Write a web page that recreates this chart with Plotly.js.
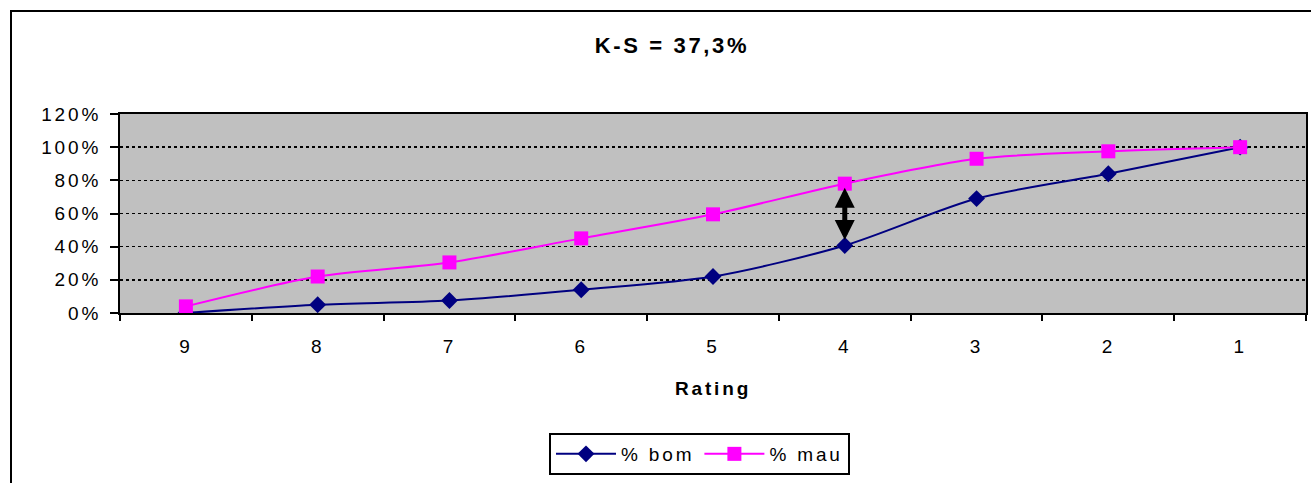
<!DOCTYPE html>
<html>
<head>
<meta charset="utf-8">
<script src="https://cdn.plot.ly/plotly-3.0.1.min.js"></script>
<style>
  html, body { margin: 0; padding: 0; background: #fff; }
  #wrap { position: relative; width: 1311px; height: 483px; overflow: hidden; }
  #chart { width: 1311px; height: 483px; }
  #frame { position: absolute; left: 10px; top: 10px; width: 1400px; height: 600px;
           border: 2px solid #000; pointer-events: none; box-sizing: border-box; }
  text { letter-spacing: 0.15em; }
  text.gtitle { letter-spacing: 0.12em; }
</style>
</head>
<body>
<div id="wrap">
  <div id="chart"></div>
  <div id="frame"></div>
</div>
<script>
const ratings = ['9', '8', '7', '6', '5', '4', '3', '2', '1'];
const pctBom = [0.0, 0.05, 0.075, 0.14, 0.22, 0.407, 0.69, 0.84, 1.0];
const pctMau = [0.04, 0.22, 0.305, 0.45, 0.595, 0.78, 0.93, 0.975, 1.0];
const ksRating = '4';
const chartTitle = 'K-S = 37,3%';
const yTicks = [0, 0.2, 0.4, 0.6, 0.8, 1.0, 1.2];
const yTickText = ['0%', '20%', '40%', '60%', '80%', '100%', '120%'];

const ksIdx = ratings.indexOf(ksRating);

const traces = [
  {
    x: ratings, y: pctBom, name: '% bom', type: 'scatter', mode: 'lines+markers',
    line: { color: '#000080', width: 2, shape: 'spline', smoothing: 0.8 },
    marker: { symbol: 'diamond', size: 13, color: '#000080' }
  },
  {
    x: ratings, y: pctMau, name: '% mau', type: 'scatter', mode: 'lines+markers',
    line: { color: '#FF00FF', width: 2, shape: 'spline', smoothing: 0.8 },
    marker: { symbol: 'square', size: 14, color: '#FF00FF' }
  }
];

const layout = {
  width: 1311, height: 483,
  margin: { l: 120, r: 5, t: 114, b: 170 },
  paper_bgcolor: '#ffffff',
  plot_bgcolor: '#C0C0C0',
  font: { family: 'Liberation Sans, Arial, sans-serif', size: 19, color: '#000' },
  title: {
    text: '<b>' + chartTitle + '</b>',
    font: { size: 22, color: '#000' },
    xref: 'container', x: 672 / 1311, xanchor: 'center',
    yref: 'container', y: 1 - 45 / 483, yanchor: 'middle'
  },
  xaxis: {
    type: 'category',
    range: [-0.5, ratings.length - 0.5],
    showline: true, linecolor: '#000', linewidth: 2, mirror: true,
    ticks: 'outside', ticklen: 6, tickwidth: 2, tickcolor: '#000',
    tickson: 'boundaries',
    ticklabelstandoff: 15,
    showgrid: false, zeroline: false,
    tickfont: { size: 19 },
    title: { text: '<b>Rating</b>', font: { size: 19 }, standoff: 26 },
    fixedrange: true
  },
  yaxis: {
    range: [0, 1.2],
    tickvals: yTicks, ticktext: yTickText,
    showline: true, linecolor: '#000', linewidth: 2, mirror: true,
    ticks: 'outside', ticklen: 8, tickwidth: 2, tickcolor: '#000',
    ticklabelstandoff: 5,
    showgrid: true, gridcolor: '#000', griddash: 'dot', gridwidth: 1.5,
    zeroline: false,
    tickfont: { size: 19 },
    fixedrange: true
  },
  showlegend: true,
  legend: {
    orientation: 'h',
    xref: 'paper', x: (549 - 120) / 1186, xanchor: 'left',
    yref: 'paper', y: (313 - 433) / 199, yanchor: 'top',
    bordercolor: '#000', borderwidth: 2, bgcolor: '#fff',
    font: { size: 19 },
    itemwidth: 60
  },
  annotations: [
    {
      xref: 'x', yref: 'y', axref: 'x', ayref: 'y',
      x: ksIdx, y: pctMau[ksIdx],
      ax: ksIdx, ay: pctBom[ksIdx],
      text: '', showarrow: true,
      arrowhead: 2, arrowside: 'end+start', arrowsize: 0.8, arrowwidth: 5,
      arrowcolor: '#000', standoff: 4, startstandoff: 4
    }
  ]
};

Plotly.newPlot('chart', traces, layout, { displayModeBar: false, staticPlot: true });
</script>
</body>
</html>
